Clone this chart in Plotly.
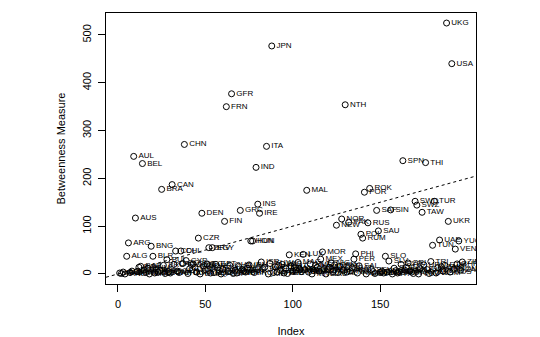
import plotly.graph_objects as go

countries = [
 "AFG","AAB","ALB","AND","ALG","ARG","ARM","ANG","AUL","AUS",
 "AZE","BAH","BAR","BEL","BEN","BFO","BHM","BHU","BNG","BLR",
 "BLZ","BOL","BOS","BOT","BRA","BRU","BUI","BUL","CAM","CAP",
 "CAN","CAO","CDI","CEN","CHA","CHL","COL","CHN","CYP","COM",
 "CON","COS","CRO","CUB","DJI","CZR","DMA","DEN","DOM","DRC",
 "ECU","DRV","EQG","EGY","ERI","EST","ETH","FIJ","FSM","GAB",
 "FIN","FRN","GAM","GHA","GFR","GNB","GRG","GRN","GUA","GRC",
 "GUI","GUY","HAI","ICE","IRN","HON","HUN","IRQ","IND","INS",
 "IRE","ISR","JAM","JOR","ITA","KIR","KUW","JPN","KYR","KZK",
 "LAO","LAT","LBR","LEB","LES","LIB","LIE","KEN","LIT","MAA",
 "MAC","MAD","MAG","MAS","MAW","LUX","MLD","MAL","MLI","MLT",
 "MNC","MNG","MSI","MYA","MZM","MEX","MOR","NAM","NAU","NEP",
 "NIC","NIG","NIR","OMA","NEW","PAL","PAN","NOR","PAR","NTH",
 "PNG","PAK","PRK","QAT","PER","PHI","RWA","SAL","POL","RUM",
 "POR","SAN","RUS","ROK","SEY","SIE","SKN","SAF","SAU","SLU",
 "SNM","SOL","SLO","SOM","SLV","SIN","STP","SUD","SUR","SVG",
 "SWA","SYR","SPN","TAJ","TAZ","SRI","TKM","TOG","TON","SWD",
 "SWZ","TUV","UGA","TAW","URU","THI","UZB","VAN","TRI","TUN",
 "TUR","WSM","YAR","UAE","ZAM","YPR","ETM","UKG","UKR","KOS",
 "USA","MON","VEN","BHR","YUG","ZAI","ZIM",
]

betweenness = [
 2, 1, 4, 0, 37, 65, 3, 6, 246, 117,
 5, 14, 16, 231, 8, 3, 12, 0, 58, 37,
 2, 9, 4, 7, 177, 18, 1, 30, 5, 2,
 187, 20, 48, 6, 3, 48, 22, 271, 28, 1,
 11, 19, 21, 14, 4, 75, 0, 127, 17, 9,
 21, 55, 2, 55, 3, 20, 13, 7, 0, 10,
 110, 350, 5, 18, 377, 1, 8, 2, 16, 133,
 9, 6, 4, 12, 19, 69, 69, 3, 223, 146,
 127, 25, 11, 14, 267, 0, 22, 477, 3, 15,
 4, 18, 7, 20, 2, 12, 1, 40, 17, 6,
 13, 8, 24, 10, 5, 41, 9, 175, 4, 21,
 0, 7, 18, 14, 6, 31, 46, 11, 0, 9,
 14, 23, 5, 19, 102, 3, 16, 115, 8, 354,
 4, 108, 6, 13, 31, 42, 2, 17, 83, 75,
 171, 0, 107, 179, 9, 5, 1, 133, 90, 3,
 6, 2, 37, 4, 27, 134, 0, 12, 7, 2,
 5, 20, 237, 8, 14, 23, 6, 4, 1, 152,
 144, 0, 11, 129, 19, 233, 9, 1, 26, 60,
 152, 2, 13, 71, 15, 6, 18, 525, 110, 4,
 440, 10, 52, 21, 69, 8, 25,
]

x_ticks = [0, 50, 100, 150]
y_ticks = [0, 100, 200, 300, 400, 500]
x_title = "Index"
y_title = "Betweenness Measure"

n = len(betweenness)
index = list(range(1, n + 1))

# R-style 4% axis extension
xmin, xmax = 1 - 0.04 * (n - 1), n + 0.04 * (n - 1)
ymax_d = max(betweenness)
ymin, ymax = -0.04 * ymax_d, ymax_d * 1.04

font = "Liberation Sans, Arial, sans-serif"

fig = go.Figure()
fig.add_trace(go.Scatter(
    x=index, y=betweenness, text=countries,
    mode="markers+text", textposition="middle right",
    textfont=dict(family=font, size=8, color="black"),
    marker=dict(symbol="circle-open", size=6, color="black",
                line=dict(width=1, color="black")),
    cliponaxis=True, showlegend=False, hoverinfo="skip",
))

# abline(0, 1) dotted reference line across the full plotting region
fig.add_trace(go.Scatter(
    x=[xmin, xmax], y=[xmin, xmax], mode="lines",
    line=dict(color="black", width=1, dash="dot"),
    showlegend=False, hoverinfo="skip",
))

fig.update_layout(
    width=540, height=337,
    margin=dict(l=106, r=64, t=13, b=53),
    paper_bgcolor="white", plot_bgcolor="white",
    font=dict(family=font, size=11, color="black"),
)
fig.update_xaxes(
    range=[xmin, xmax], tickvals=x_ticks, ticktext=[str(v) for v in x_ticks],
    showgrid=False, zeroline=False, showline=True, mirror=True,
    linecolor="black", linewidth=1, ticks="outside", ticklen=7,
    tickcolor="black", tickfont=dict(size=11), ticklabelstandoff=3,
    automargin=False,
    title=dict(text=x_title, font=dict(size=11), standoff=20),
)
fig.update_yaxes(
    range=[ymin, ymax], tickvals=y_ticks, ticktext=[str(v) for v in y_ticks],
    showgrid=False, zeroline=False, showline=True, mirror=True,
    linecolor="black", linewidth=1, ticks="outside", ticklen=7,
    tickcolor="black", tickangle=-90, tickfont=dict(size=11),
    ticklabelstandoff=3, automargin=False,
    title=dict(text=y_title, font=dict(size=11), standoff=12),
)

fig.write_html("out.html")
